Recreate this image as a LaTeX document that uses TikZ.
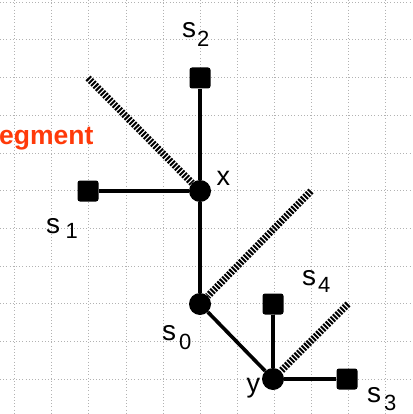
\documentclass[tikz,border=0pt]{standalone}
\usepackage{fontspec}
\setmainfont{Liberation Sans}
\definecolor{segred}{HTML}{FF3A0A}
\newcommand{\bigs}{{\fontsize{28}{30}\selectfont s}}
\begin{document}
\begin{tikzpicture}[x=1pt,y=-1pt,
  gridline/.style={gray!60,line width=0.6pt,dash pattern=on 0.7pt off 2.5pt},
  vert/.style={circle,fill=black,minimum size=22pt,inner sep=0pt},
  sq/.style={rectangle,rounded corners=2.5pt,fill=black,minimum size=21pt,inner sep=0pt},
  edge/.style={line width=3.6pt},
  hatch/.style={line width=7pt,dash pattern=on 2pt off 1.4pt},
  lbl/.style={anchor=base west,inner sep=0pt,font=\fontsize{22}{24}\selectfont}]
\useasboundingbox (0,0) rectangle (412,414);
% grid
\foreach \i in {0,...,10} {
  \draw[gridline] (14.5+37.1*\i,0) -- (14.5+37.1*\i,414);
  \draw[gridline] (0,2+37.7*\i) -- (412,2+37.7*\i);
}
% nodes
\node[vert] (x) at (200,191) {};
\node[vert] (s0) at (200,304) {};
\node[vert] (y) at (273,379) {};
\node[sq] (s2) at (200,78) {};
\node[sq] (s1) at (88,191) {};
\node[sq] (s4) at (273,304) {};
\node[sq] (s3) at (347,379) {};
% hatch endpoints
\coordinate (h1) at (88,78);
\coordinate (h2) at (311,191);
\coordinate (h3) at (348,304);
% hatched lines
\draw[hatch] (h1) -- (x);
\draw[hatch] (h2) -- (s0);
\draw[hatch] (h3) -- (y);
% edges
\draw[edge] (x) -- (s2);
\draw[edge] (x) -- (s1);
\draw[edge] (x) -- (s0);
\draw[edge] (s0) -- (y);
\draw[edge] (y) -- (s4);
\draw[edge] (y) -- (s3);
% labels
\node[lbl] (ls1) at (46,233) {\bigs\hspace{5.5pt}\raisebox{-5pt}{1}};
\node[lbl] (ls2) at (182,38) {\bigs\hspace{1pt}\raisebox{-9pt}{2}};
\node[lbl] (ls3) at (367,402) {\bigs\hspace{3pt}\raisebox{-8pt}{3}};
\node[lbl] (ls4) at (302,285) {\bigs\hspace{2pt}\raisebox{-7pt}{4}};
\node[lbl] (ls0) at (162,340) {\bigs\hspace{3pt}\raisebox{-9pt}{0}};
\node[lbl,font=\fontsize{27}{29}\selectfont] (lx) at (216.5,185) {x};
\node[lbl,font=\fontsize{27}{29}\selectfont] (ly) at (246.5,392) {y};
\node[anchor=base west,inner sep=0pt,text=segred,font=\bfseries\fontsize{26.5}{28}\selectfont] (seg) at (-1,144) {egment};
\end{tikzpicture}
\end{document}
